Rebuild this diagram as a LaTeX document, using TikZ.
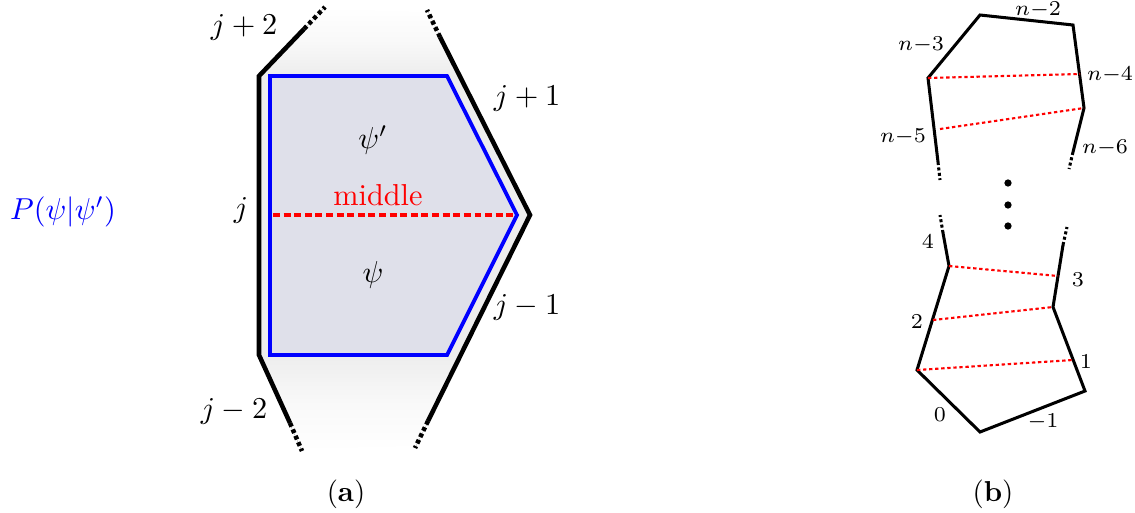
\documentclass[tikz,border=0pt]{standalone}
\usepackage{amsmath}
\begin{document}
\begin{tikzpicture}[x=0.33pt,y=-0.33pt,
  edgeA/.style={line width=1.5pt, line join=miter, black},
  dotA/.style={line width=1.5pt, dash pattern=on 1.3pt off 1pt},
  edgeB/.style={line width=1pt, line join=miter, black},
  dotB/.style={line width=1pt, dash pattern=on 1pt off 0.8pt},
  redA/.style={red, line width=1pt, dash pattern=on 2.3pt off 1.2pt},
  redB/.style={red, line width=0.7pt, dash pattern=on 1.1pt off 0.9pt},
  labA/.style={font=\fontsize{10}{12}\selectfont, inner sep=0pt},
  labB/.style={font=\fontsize{7}{8}\selectfont, inner sep=0pt},
  capt/.style={font=\fontsize{9.5}{11}\selectfont, inner sep=0pt}]
\useasboundingbox (0,0) rectangle (1135,512);
\definecolor{lav}{rgb}{0.875,0.878,0.918}
% ---------- (a) ----------
\coordinate (L1) at (325,7);  \coordinate (L2) at (304,29);
\coordinate (L3) at (259,76); \coordinate (L4) at (259,355);
\coordinate (L5) at (290,423); \coordinate (L6) at (302,451);
\coordinate (R1) at (427,10); \coordinate (R2) at (440,37);
\coordinate (R3) at (530,215); \coordinate (R4) at (428,421);
\coordinate (R5) at (415,448);
% shaded background
\fill[top color=white, bottom color=gray!14, middle color=gray!5] (L3) -- (L1) -- (R1) -- (460,76) -- cycle;
\fill[gray!14] (L3) -- (460,76) -- (R3) -- (461,355) -- (L4) -- cycle;
\fill[top color=gray!14, bottom color=white, middle color=gray!5] (L4) -- (461,355) -- (R5) -- (L6) -- cycle;
\draw[white, line width=1.5pt] (L1) -- (R1);
\draw[white, line width=1.5pt] (L6) -- (R5);
% blue polygon
\coordinate (B1) at (270,76); \coordinate (B2) at (447,76);
\coordinate (B3) at (517,215); \coordinate (B4) at (447,355);
\coordinate (B5) at (270,355);
\filldraw[fill=lav, draw=blue, line width=1.25pt] (B1) -- (B2) -- (B3) -- (B4) -- (B5) -- cycle;
% black boundary
\draw[edgeA] (L2) -- (L3) -- (L4) -- (L5);
\draw[dotA] (L2) -- (L1);
\draw[dotA] (L5) -- (L6);
\draw[edgeA] (R2) -- (R3) -- (R4);
\draw[dotA] (R2) -- (R1);
\draw[dotA] (R4) -- (R5);
% middle line
\coordinate (M1) at (273,215); \coordinate (M2) at (515,215);
\draw[redA] (M1) -- (M2);
\node[labA, red, anchor=base] (mid) at (378,205) {middle};
\node[labA] (psip) at (373,140) {$\psi'$};
\node[labA] (psi) at (373,275) {$\psi$};
\node[labA] (lj) at (241,210) {$j$};
\node[labA] (ljp2) at (244,27) {$j+2$};
\node[labA] (ljp1) at (527,98) {$j+1$};
\node[labA] (ljm1) at (527,307) {$j-1$};
\node[labA] (ljm2) at (234,411) {$j-2$};
\node[labA, blue] (P) at (63,212) {$P(\psi|\psi')$};
\node[capt] (capa) at (346,494) {(\textbf{a})};
% ---------- (b) ----------
\coordinate (u1) at (980,15); \coordinate (u2) at (1073,25);
\coordinate (u3) at (1084,108); \coordinate (u4) at (1073,152);
\coordinate (u5) at (1069,169); \coordinate (u6) at (928,78);
\coordinate (u7) at (938,162); \coordinate (u8) at (940,180);
\draw[edgeB] (u7) -- (u6) -- (u1) -- (u2) -- (u3) -- (u4);
\draw[dotB] (u4) -- (u5);
\draw[dotB] (u7) -- (u8);
\coordinate (ua) at (1080,74); \coordinate (ub) at (940,129);
\draw[redB] (u6) -- (ua);
\draw[redB] (ub) -- (u3);
\node[labB] (n3) at (921,45) {$n{-}3$};
\node[labB] (n2) at (1038,10) {$n{-}2$};
\node[labB] (n4) at (1110,75) {$n{-}4$};
\node[labB] (n5) at (903,137) {$n{-}5$};
\node[labB] (n6) at (1105,148) {$n{-}6$};
\fill (1008,183) circle (1.2pt);
\fill (1008,205) circle (1.2pt);
\fill (1008,226) circle (1.2pt);
\coordinate (l1) at (940,215); \coordinate (l2) at (943,233);
\coordinate (l3) at (949,266); \coordinate (l4) at (917,370);
\coordinate (l5) at (980,432); \coordinate (l6) at (1085,391);
\coordinate (l7) at (1053,307); \coordinate (l8) at (1063,245);
\coordinate (l9) at (1067,227);
\draw[edgeB] (l2) -- (l3) -- (l4) -- (l5) -- (l6) -- (l7) -- (l8);
\draw[dotB] (l2) -- (l1);
\draw[dotB] (l8) -- (l9);
\coordinate (la) at (1058,276); \coordinate (lb) at (933,320);
\coordinate (lc) at (1073,360);
\draw[redB] (l3) -- (la);
\draw[redB] (lb) -- (l7);
\draw[redB] (l4) -- (lc);
\node[labB] (d4) at (928,242) {$4$};
\node[labB] (d2) at (917,322) {$2$};
\node[labB] (d3) at (1078,280) {$3$};
\node[labB] (d1) at (1086,362) {$1$};
\node[labB] (d0) at (940,415) {$0$};
\node[labB] (dm1) at (1043,422) {$-1$};
\node[capt] (capb) at (993,494) {(\textbf{b})};
\end{tikzpicture}
\end{document}
